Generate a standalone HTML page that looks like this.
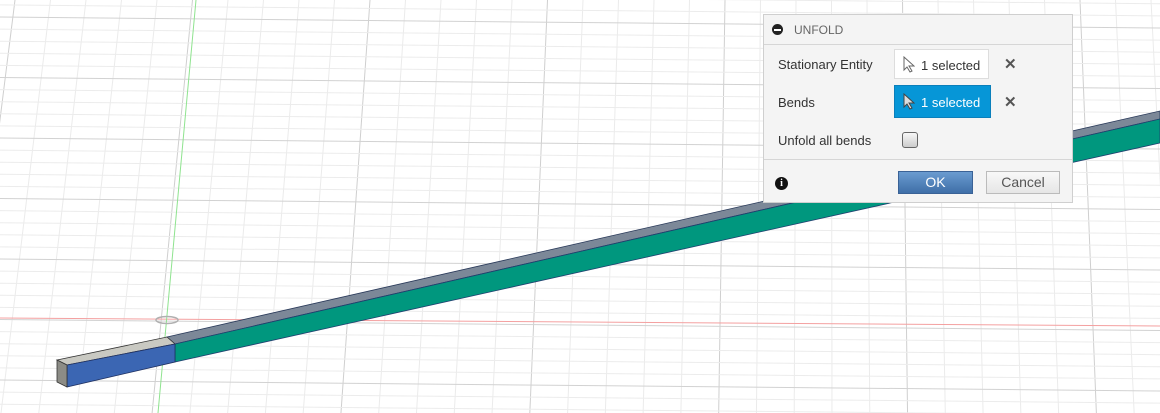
<!DOCTYPE html>
<html><head><meta charset="utf-8"><style>
html,body{margin:0;padding:0;width:1160px;height:413px;overflow:hidden;background:#fff;font-family:"Liberation Sans",sans-serif}
#dlg{position:absolute;left:763px;top:14px;width:310px;height:189px;background:#f4f4f4;border:1px solid #cfcfcf;box-sizing:border-box;font-size:13px;color:#333;overflow:hidden}
.abs{position:absolute}
</style></head><body>
<svg width="1160" height="413" style="position:absolute;left:0;top:0;display:block">
<g id="grid"></g>
<line x1="0" y1="318" x2="1160" y2="326" stroke="#f4a0a0" stroke-width="1"/>
<line x1="196" y1="0" x2="158" y2="413" stroke="#8fe38f" stroke-width="1"/>
<ellipse cx="167" cy="320" rx="11" ry="3.5" fill="none" stroke="#b0b0b0" stroke-width="1.5"/>
<g>
<polygon points="167,337 1160,111 1160,119 175,344" fill="#7c8898" stroke="#2a3a5a" stroke-width="0.8"/>
<polygon points="175,344 1160,119 1160,143 175,362" fill="#00977e" stroke="#1f3f6f" stroke-width="0.8"/>
<polygon points="57,360 167,337 175,344 67,365" fill="#c9c9c2" stroke="#333" stroke-width="0.8"/>
<polygon points="67,365 175,344 175,362 67,387" fill="#3b66b3" stroke="#1f3060" stroke-width="0.8"/>
<polygon points="57,360 67,365 67,387 57,382" fill="#8c8c86" stroke="#333" stroke-width="0.8"/>
</g>
</svg>
<div id="dlg">
 <div class="abs" style="left:0;top:0;width:308px;height:29px;border-bottom:1px solid #d6d6d6">
  <div class="abs" style="left:8px;top:9px;width:11px;height:11px;border-radius:50%;background:#222"><div style="position:absolute;left:2px;top:5px;width:7px;height:1.5px;background:#fff"></div></div>
  <div class="abs" style="left:30px;top:8px;color:#666;font-size:12px">UNFOLD</div>
 </div>
 <div class="abs" style="left:14px;top:42px">Stationary Entity</div>
 <div class="abs" style="left:130px;top:34px;width:95px;height:30px;background:#fff;border:1px solid #ddd;box-sizing:border-box">
  <svg class="abs" style="left:8px;top:6px" width="12" height="17"><path d="M1 1 L1 14 L4 11 L7 16 L9 15 L6 10 L11 10 Z" fill="#fff" stroke="#666" stroke-width="1"/></svg><span class="abs" style="left:26px;top:8px;color:#333">1 selected</span></div>
 <div class="abs" style="left:240px;top:40px;font-size:15px;color:#555;font-weight:bold">✕</div>
 <div class="abs" style="left:14px;top:80px">Bends</div>
 <div class="abs" style="left:130px;top:70px;width:97px;height:33px;background:#0696d7;border:1px solid #0a7fbb;box-sizing:border-box">
  <svg class="abs" style="left:8px;top:7px" width="12" height="17"><path d="M1 1 L1 14 L4 11 L7 16 L9 15 L6 10 L11 10 Z" fill="#ddd" stroke="#444" stroke-width="1"/></svg><span class="abs" style="left:26px;top:9px;color:#fff">1 selected</span></div>
 <div class="abs" style="left:240px;top:78px;font-size:15px;color:#555;font-weight:bold">✕</div>
 <div class="abs" style="left:14px;top:118px">Unfold all bends</div>
 <div class="abs" style="left:138px;top:117px;width:14px;height:14px;border:1px solid #666;border-radius:3px;background:linear-gradient(#f8f8f8,#ccc)"></div>
 <div class="abs" style="left:0;top:144px;width:308px;height:1px;background:#d6d6d6"></div>
 <div class="abs" style="left:11px;top:162px;width:13px;height:13px;border-radius:50%;background:#111;color:#fff;font-size:10px;font-weight:bold;text-align:center;line-height:13px;font-family:'Liberation Serif',serif">i</div>
 <div class="abs" style="left:134px;top:156px;width:75px;height:23px;background:linear-gradient(#6a9bd0,#3f6fa8);border:1px solid #3a6296;box-sizing:border-box;color:#fff;text-align:center;line-height:21px;font-size:14px">OK</div>
 <div class="abs" style="left:222px;top:156px;width:74px;height:23px;background:linear-gradient(#f8f8f8,#e6e6e6);border:1px solid #bbb;box-sizing:border-box;color:#555;text-align:center;line-height:21px;font-size:14px">Cancel</div>
</div>
<script>
const vx=824, H=6455;
const g=document.getElementById('grid');
const ns='http://www.w3.org/2000/svg';
function ln(x1,y1,x2,y2,c){const l=document.createElementNS(ns,'line');


l.setAttribute('x1',x1);l.setAttribute('y1',y1);l.setAttribute('x2',x2);l.setAttribute('y2',y2);
l.setAttribute('stroke',c);l.setAttribute('stroke-width','1');g.appendChild(l);}
for(let i=-20;i<40;i++){const xt=15+i*35.5;const k=(xt-vx)/H;
 ln(xt,0,xt+k*413,413,(i%5===0)?'#cfcfcf':'#ebebeb');}
for(let j=-2;j<36;j++){const y=20+j*12.1;
 ln(0,y-3,1160,y+8,(j%5===0)?'#d2d2d2':'#ececec');}
</script>
</body></html>
